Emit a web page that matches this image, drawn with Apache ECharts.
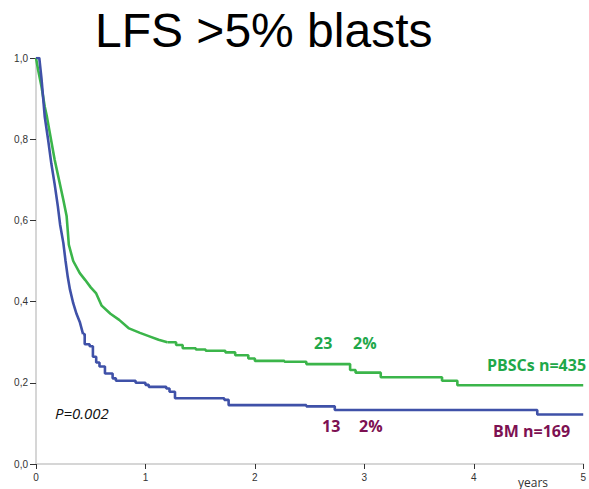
<!DOCTYPE html>
<html>
<head>
<meta charset="utf-8">
<script src="https://cdn.jsdelivr.net/npm/echarts@6/dist/echarts.min.js"></script>
<style>
html,body{margin:0;padding:0;background:#fff;}
#chart{width:589px;height:489px;}
</style>
</head>
<body>
<div id="chart"></div>
<script>
// ---- data ----
const titleText = 'LFS >5% blasts';
const seriesNames = ['PBSCs n=435', 'BM n=169'];
// dense early part (many small steps, drawn as a continuous trace)
const pbscEarlyTimes = [0, 0.02, 0.05, 0.08, 0.10, 0.13, 0.17, 0.21, 0.25, 0.28, 0.30, 0.34, 0.40, 0.45, 0.50, 0.55, 0.60, 0.68, 0.76, 0.85, 0.95, 1.03, 1.12, 1.20];
const pbscEarlySurv  = [1.0, 0.97, 0.93, 0.88, 0.855, 0.81, 0.75, 0.70, 0.65, 0.61, 0.54, 0.50, 0.47, 0.453, 0.435, 0.42, 0.39, 0.37, 0.355, 0.334, 0.323, 0.315, 0.306, 0.30];
// later part (visible steps)
const pbscLateTimes = [1.20, 1.28, 1.34, 1.46, 1.55, 1.73, 1.82, 1.94, 2.00, 2.27, 2.47, 2.87, 2.92, 3.15, 3.71, 3.85, 5.00];
const pbscLateSurv  = [0.30, 0.293, 0.285, 0.282, 0.279, 0.275, 0.268, 0.26, 0.254, 0.252, 0.246, 0.2315, 0.225, 0.2135, 0.205, 0.194, 0.194];
const bmEarlyTimes = [0, 0.03, 0.05, 0.08, 0.11, 0.14, 0.17, 0.20, 0.22, 0.25, 0.27, 0.29, 0.31, 0.34, 0.37, 0.40, 0.43];
const bmEarlySurv  = [1.0, 1.0, 0.95, 0.855, 0.80, 0.74, 0.69, 0.634, 0.59, 0.544, 0.50, 0.461, 0.43, 0.396, 0.37, 0.35, 0.32];
const bmLateTimes = [0.43, 0.445, 0.49, 0.52, 0.55, 0.58, 0.63, 0.70, 0.73, 0.91, 1.00, 1.03, 1.19, 1.22, 1.27, 1.72, 1.76, 2.47, 2.73, 4.58, 5.00];
const bmLateSurv  = [0.32, 0.295, 0.29, 0.264, 0.25, 0.24, 0.223, 0.211, 0.205, 0.20, 0.195, 0.19, 0.186, 0.178, 0.162, 0.158, 0.145, 0.142, 0.133, 0.122, 0.122];
const yTickValues = [0, 0.2, 0.4, 0.6, 0.8, 1.0];
const xTickValues = [0, 1, 2, 3, 4, 5];
const pValueText = 'P=0.002';
const pbscAtRisk = ['23', '2%'];
const bmAtRisk = ['13', '2%'];
const xAxisName = 'years';

const GREEN_LINE = '#3bb54a';
const GREEN_TEXT = '#1fa84a';
const BLUE_LINE = '#3f51a8';
const MAROON = '#7d1152';

const pair = (ts, ss) => ts.map((t, i) => [t, ss[i]]);

const chart = echarts.init(document.getElementById('chart'), null, {renderer: 'svg'});

const boldFont = (size) => ({fontFamily: '"Open Sans"', fontWeight: 'bold', fontSize: size});
const LW = 2.6;

chart.setOption({
  animation: false,
  backgroundColor: '#fff',
  grid: {left: 36, right: 2, top: 58, bottom: 25},
  xAxis: {
    type: 'value', min: 0, max: 5, interval: 1,
    axisLine: {show: true, lineStyle: {color: '#d6d6d6', width: 2}},
    axisTick: {show: true, length: 5, lineStyle: {color: '#333', width: 1}},
    axisLabel: {color: '#333', fontSize: 10, fontFamily: '"Liberation Sans", Arial', margin: 8,
      formatter: (v) => xTickValues.includes(v) ? String(v) : ''},
    splitLine: {show: false}
  },
  yAxis: {
    type: 'value', min: 0, max: 1, interval: 0.2,
    axisLine: {show: true, lineStyle: {color: '#d6d6d6', width: 2}},
    axisTick: {show: true, length: 6, lineStyle: {color: '#333', width: 1}},
    axisLabel: {color: '#333', fontSize: 10, fontFamily: '"Liberation Sans", Arial', margin: 8,
      formatter: (v) => yTickValues.some(t => Math.abs(t - v) < 1e-9) ? v.toFixed(1).replace('.', ',') : ''},
    splitLine: {show: false}
  },
  series: [
    {name: seriesNames[0], type: 'line', showSymbol: false, data: pair(pbscEarlyTimes, pbscEarlySurv),
      lineStyle: {color: GREEN_LINE, width: LW}, itemStyle: {color: GREEN_LINE}, z: 2},
    {name: seriesNames[0], type: 'line', step: 'end', showSymbol: false, data: pair(pbscLateTimes, pbscLateSurv),
      lineStyle: {color: GREEN_LINE, width: LW}, itemStyle: {color: GREEN_LINE}, z: 2},
    {name: seriesNames[1], type: 'line', showSymbol: false, data: pair(bmEarlyTimes, bmEarlySurv),
      lineStyle: {color: BLUE_LINE, width: LW}, itemStyle: {color: BLUE_LINE}, z: 3},
    {name: seriesNames[1], type: 'line', step: 'end', showSymbol: false, data: pair(bmLateTimes, bmLateSurv),
      lineStyle: {color: BLUE_LINE, width: LW}, itemStyle: {color: BLUE_LINE}, z: 3}
  ],
  graphic: [
    {type: 'text', x: 95, y: 30,
      style: {text: titleText, fill: '#000', font: '48px "Liberation Sans", Arial', align: 'left', verticalAlign: 'middle'}},
    {type: 'text', x: 55, y: 413,
      style: {text: pValueText, fill: '#111', font: 'italic 15px "Open Sans"', align: 'left', verticalAlign: 'middle'}},
    {type: 'text', x: 314, y: 343,
      style: Object.assign({text: pbscAtRisk[0], fill: GREEN_TEXT, align: 'left', verticalAlign: 'middle'}, boldFont(16))},
    {type: 'text', x: 353, y: 343,
      style: Object.assign({text: pbscAtRisk[1], fill: GREEN_TEXT, align: 'left', verticalAlign: 'middle'}, boldFont(16))},
    {type: 'text', x: 487, y: 365,
      style: Object.assign({text: seriesNames[0], fill: GREEN_TEXT, align: 'left', verticalAlign: 'middle'}, boldFont(16))},
    {type: 'text', x: 322, y: 426,
      style: Object.assign({text: bmAtRisk[0], fill: MAROON, align: 'left', verticalAlign: 'middle'}, boldFont(16))},
    {type: 'text', x: 359, y: 426,
      style: Object.assign({text: bmAtRisk[1], fill: MAROON, align: 'left', verticalAlign: 'middle'}, boldFont(16))},
    {type: 'text', x: 493, y: 431,
      style: Object.assign({text: seriesNames[1], fill: MAROON, align: 'left', verticalAlign: 'middle'}, boldFont(16))},
    {type: 'text', x: 518, y: 482,
      style: {text: xAxisName, fill: '#333', font: '12px "Open Sans"', align: 'left', verticalAlign: 'middle'}}
  ]
});
</script>
</body>
</html>
